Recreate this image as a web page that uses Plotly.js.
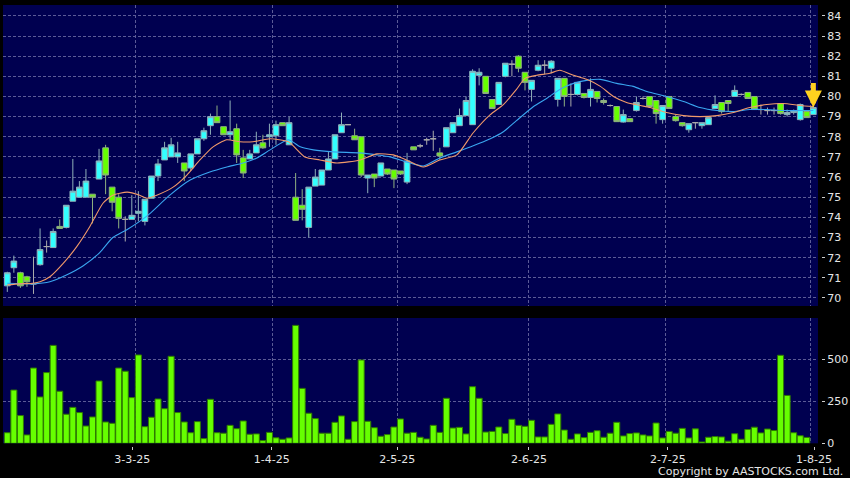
<!DOCTYPE html>
<html>
<head>
<meta charset="utf-8">
<script src="https://cdn.plot.ly/plotly-3.0.1.min.js"></script>
<style>
html,body{margin:0;padding:0;background:#000;}
#chart{width:850px;height:478px;}
</style>
</head>
<body>
<div id="chart"></div>
<script>
// ---- data ----
const opens  = [70.6,71.5,71.25,71.05,70.7,71.65,72.55,72.5,73.55,73.5,74.8,75.0,75.0,75.15,75.9,77.45,75.5,75.0,73.9,73.9,
 74.2,73.8,74.95,76.05,76.85,77.0,77.0,76.7,76.45,77.15,77.9,78.55,79.0,78.5,78.1,78.4,76.95,76.9,77.2,77.7,
 78.0,78.05,78.7,77.6,75.0,74.6,73.5,75.55,75.6,76.35,76.9,78.2,78.6,78.05,78.0,75.95,76.15,76.05,76.4,76.35,
 76.3,75.75,77.5,77.55,77.85,77.9,77.2,77.5,78.2,78.55,79.05,78.6,81.05,81.0,79.85,79.6,81.0,81.6,82.0,81.2,
 80.35,81.3,81.55,81.4,79.85,80.9,80.1,80.1,80.15,79.95,80.25,79.8,79.55,79.5,78.73,78.9,79.3,79.9,80.0,79.8,
 78.85,80.0,79.0,78.7,78.35,78.7,78.55,78.6,79.4,79.7,79.8,80.0,80.1,80.2,80.0,79.35,79.3,79.3,79.65,79.1,
 79.2,78.85,79.25,79.1];
const highs  = [71.3,72.1,71.3,71.1,72.05,73.45,72.85,73.45,73.9,74.6,76.9,75.8,76.4,75.15,77.4,77.6,75.5,75.15,74.05,75.1,
 75.3,74.9,76.05,76.9,77.75,77.95,77.75,76.7,77.15,77.9,78.45,79.15,79.55,78.5,79.8,78.65,77.35,77.35,78.25,78.1,
 78.65,78.8,78.7,79.0,76.2,75.4,75.5,76.4,76.35,77.25,78.1,79.2,78.6,78.4,78.0,76.1,76.15,76.7,76.4,76.35,
 76.3,77.2,77.5,77.65,77.95,78.3,77.45,78.45,78.7,79.4,80.0,81.35,81.4,81.0,79.85,80.7,81.65,81.8,82.05,81.2,
 80.8,81.8,81.8,81.8,80.9,80.9,80.65,80.7,80.15,80.9,80.25,79.9,79.6,79.5,79.35,78.9,80.0,80.0,80.0,79.8,
 79.55,80.0,79.1,78.7,78.65,78.7,78.7,78.95,80.05,79.7,79.8,80.55,80.15,80.2,80.0,79.6,79.45,79.45,79.65,79.35,
 79.35,79.65,79.25,79.65];
const lows   = [70.3,71.25,70.5,70.55,70.2,71.6,72.25,72.5,73.45,73.45,74.8,75.0,75.0,73.7,75.9,75.15,74.3,73.45,72.8,73.9,
 73.8,73.6,74.95,75.8,76.85,77.0,76.7,75.8,76.3,77.15,77.8,78.1,78.7,78.1,77.85,76.7,75.95,76.9,77.2,77.4,
 77.5,77.6,78.55,77.6,73.85,73.85,73.0,75.55,75.6,76.35,76.9,78.2,78.6,77.85,76.0,75.2,75.5,76.05,76.1,75.45,
 76.1,75.65,77.35,77.45,77.6,77.3,76.85,77.5,78.2,78.55,79.05,78.6,80.55,80.15,79.4,79.6,80.95,81.0,81.2,80.3,
 79.75,81.25,81.1,81.15,79.5,79.5,79.5,80.05,79.9,79.5,79.7,79.6,79.5,78.75,78.7,78.75,79.25,79.85,79.5,78.65,
 78.65,79.4,78.75,78.5,78.2,78.4,78.4,78.6,79.4,79.15,79.25,80.0,80.05,79.9,79.35,79.1,79.1,79.1,79.1,79.0,
 79.1,78.8,78.95,79.1];
const closes = [71.25,71.83,70.6,70.8,70.7,72.4,72.55,73.3,73.45,74.6,75.3,75.5,75.8,75.0,76.8,76.1,74.75,73.95,73.9,74.1,
 74.3,74.9,76.05,76.65,77.45,77.6,77.2,76.3,77.15,77.9,78.3,79.0,78.7,78.1,78.25,77.1,76.2,77.15,77.6,77.45,
 78.1,78.6,78.55,78.7,73.85,74.4,75.5,76.0,76.35,76.9,78.1,78.6,78.6,77.85,76.1,76.1,75.95,76.7,76.15,75.9,
 76.15,76.8,77.35,77.55,77.85,77.9,77.05,78.45,78.7,79.05,79.8,81.25,81.2,80.15,79.4,80.7,81.65,81.6,81.4,80.7,
 80.8,81.55,81.55,81.75,80.9,80.0,80.1,80.7,79.95,80.35,79.9,79.7,79.55,78.75,79.1,78.75,79.7,79.9,79.5,79.15,
 79.55,79.4,78.8,78.55,78.65,78.7,78.7,78.95,79.6,79.25,79.65,80.3,80.1,79.9,79.35,79.35,79.3,79.3,79.15,79.2,
 79.3,79.6,78.95,79.45];
const volumes = [63,317,165,50,448,276,421,583,310,173,214,183,103,157,371,127,119,448,429,272,
 526,99,155,264,206,518,183,127,63,129,28,262,63,60,107,87,133,54,56,16,
 65,33,24,32,702,327,179,147,60,60,125,163,24,129,496,131,93,42,52,97,
 145,60,65,36,26,107,65,268,91,95,56,337,268,67,71,97,58,143,107,101,
 137,38,38,113,175,79,24,56,34,65,75,36,60,125,44,58,62,50,44,121,
 32,71,60,89,32,86,8,36,40,38,13,57,24,82,96,62,85,76,524,285,
 63,45,35,null];
// moving averages, read at sample positions (x = trading-day index)
const maShortX = [0,1.9,3.9,5,6.5,8.5,10.6,12.6,14.6,16.1,18.3,20.2,21.3,22.8,25.3,27.4,29.4,31.4,33.5,35.5,
 37.5,40.1,42.9,45.4,47.7,50.3,53.8,56.4,58.9,60.9,63.5,66,68.6,71.1,73.7,75.7,77.7,79,80.8,82.8,
 84.3,86.4,88.4,90.5,92.5,94.5,96.6,98.1,100.6,103.2,105.7,108.3,110.8,113.3,115.9,118.4,121,123];
const maShort  = [70.65,70.7,70.73,70.8,71.05,71.7,72.55,73.55,74.7,75.1,75.25,75.1,74.95,75.1,75.5,76.1,76.85,77.5,77.85,77.75,
 77.75,77.9,77.75,77.0,76.85,76.7,76.85,77.15,77.1,76.85,76.5,76.85,77.1,78.2,79.1,79.6,80.35,80.9,81.05,81.15,
 81.3,81.05,80.85,80.5,80.0,79.7,79.55,79.45,79.2,79.05,79.0,79.05,79.2,79.45,79.6,79.65,79.55,79.5];
const maLongX = [0,3.9,6.5,9.1,11.6,14.1,16.1,18.3,20.2,21.8,24.8,27.9,30.9,33.5,36,38.1,40.1,42.9,44.7,46.7,
 49.8,53.8,56.4,58.4,60.9,63.5,66,68.6,71.1,73.7,75.7,77.7,80.3,82.3,84.3,86.4,88.4,90.5,93,95.5,
 97.6,100.6,103.2,105.7,108.3,110.8,113.3,115.9,118.4,121,123];
const maLong  = [70.73,70.7,70.8,71.15,71.6,72.25,73.0,73.4,73.8,74.2,75.1,75.85,76.25,76.5,76.7,76.95,77.35,77.85,77.5,77.35,
 77.25,77.2,77.1,77.0,76.75,76.55,76.95,77.25,77.55,77.9,78.25,78.8,79.5,79.9,80.35,80.65,80.8,80.85,80.65,80.5,
 80.25,80.0,79.75,79.45,79.3,79.25,79.35,79.35,79.3,79.3,79.3];
const monthStart = [19.5,40.5,59.5,79.5,100.5,122.5];
const tickPos = [19.07,40.35,59.5,79.6,100.8,123.1];
const tickLabels = ['3-3-25','1-4-25','2-5-25','2-6-25','2-7-25','1-8-25'];
const copyright = 'Copyright by AASTOCKS.com Ltd.';

// ---- build traces ----
const idx = opens.map((_, i) => i);
const pick = (arr, keep) => arr.filter((_, i) => keep(i));
const isDoji = i => opens[i] === closes[i];
const notDoji = i => !isDoji(i);

const CYAN = '#33ffff', LIME = '#66ff00';
const candles = {
  type: 'candlestick', xaxis: 'x', yaxis: 'y',
  x: pick(idx, notDoji), open: pick(opens, notDoji), high: pick(highs, notDoji),
  low: pick(lows, notDoji), close: pick(closes, notDoji),
  increasing: {fillcolor: CYAN, line: {color: '#8fb0b8', width: 1}},
  decreasing: {fillcolor: LIME, line: {color: '#8fb080', width: 1}},
  whiskerwidth: 0, hoverinfo: 'skip', showlegend: false
};
const dojis = {
  type: 'candlestick', xaxis: 'x', yaxis: 'y',
  x: pick(idx, isDoji), open: pick(opens, isDoji), high: pick(highs, isDoji),
  low: pick(lows, isDoji), close: pick(closes, isDoji),
  increasing: {fillcolor: '#aaaaaa', line: {color: '#aaaaaa', width: 1}},
  decreasing: {fillcolor: '#aaaaaa', line: {color: '#aaaaaa', width: 1}},
  whiskerwidth: 0, hoverinfo: 'skip', showlegend: false
};
const maS = {type: 'scatter', mode: 'lines', x: maShortX, y: maShort, xaxis: 'x', yaxis: 'y',
  line: {color: '#f29a6a', width: 1.1, shape: 'spline', smoothing: 0.6}, hoverinfo: 'skip', showlegend: false};
const maL = {type: 'scatter', mode: 'lines', x: maLongX, y: maLong, xaxis: 'x', yaxis: 'y',
  line: {color: '#3aa6f0', width: 1.1, shape: 'spline', smoothing: 0.6}, hoverinfo: 'skip', showlegend: false};
const vol = {type: 'bar', x: idx, y: volumes, xaxis: 'x2', yaxis: 'y2',
  marker: {color: LIME, line: {color: '#2f7a00', width: 1}}, hoverinfo: 'skip', showlegend: false};

const GRID = '#5b5b96';
const xr = [-0.656, 123.71];
const tickFont = {family: 'DejaVu Sans, sans-serif', size: 11, color: '#e6e6e6'};
const lastI = idx.length - 1;
const layout = {
  width: 850, height: 478,
  margin: {l: 3, r: 29, t: 5, b: 32},
  paper_bgcolor: '#000000', plot_bgcolor: '#000050',
  boxgap: 0.13, boxgroupgap: 0, bargap: 0.08,
  xaxis: {domain: [0, 0.99633], range: xr, anchor: 'y', tickmode: 'array', tickvals: monthStart,
    showticklabels: false, ticks: '', showgrid: true, gridcolor: GRID, griddash: '3px,2px', gridwidth: 1,
    zeroline: false, showline: false, rangeslider: {visible: false}, fixedrange: true},
  xaxis2: {domain: [0, 0.99633], range: xr, anchor: 'free', position: 0, tickmode: 'array',
    tickvals: tickPos, ticktext: tickLabels, ticks: 'outside', ticklen: 3, tickcolor: '#cccccc', tickwidth: 1,
    tickfont: tickFont, showgrid: false, zeroline: false, showline: false,
    minor: {tickmode: 'array', tickvals: monthStart, showgrid: true, gridcolor: GRID, griddash: '3px,2px', ticks: ''}},
  yaxis: {domain: [0.31746, 1], range: [69.6, 84.54], anchor: 'free', position: 1, side: 'right',
    tickmode: 'linear', tick0: 70, dtick: 1, ticks: 'outside', ticklen: 3, tickcolor: '#cccccc',
    tickfont: tickFont, showgrid: true, gridcolor: GRID, griddash: '3px,2px', zeroline: false, showline: false},
  yaxis2: {domain: [0.0061, 0.29025], range: [0, 746], anchor: 'free', position: 1, side: 'right',
    tickmode: 'array', tickvals: [0, 250, 500], ticks: 'outside', ticklen: 3, tickcolor: '#cccccc',
    tickfont: tickFont, showgrid: true, gridcolor: GRID, griddash: '3px,2px', zeroline: false, showline: false},
  annotations: [
    {x: idx[lastI], y: closes[lastI], xref: 'x', yref: 'y', showarrow: true,
     ax: 0, ay: -26, arrowcolor: '#ffd21f', arrowwidth: 5, arrowhead: 2, arrowsize: 0.68, standoff: 0, text: ''},
    {x: 1.0293, y: -0.0567, xref: 'paper', yref: 'paper', xanchor: 'right', yanchor: 'middle', showarrow: false,
     text: copyright, font: {family: 'DejaVu Sans, sans-serif', size: 11, color: '#e6e6e6'}}
  ]
};
Plotly.newPlot('chart', [vol, maL, maS, candles, dojis], layout, {staticPlot: true, displayModeBar: false});
</script>
</body>
</html>
